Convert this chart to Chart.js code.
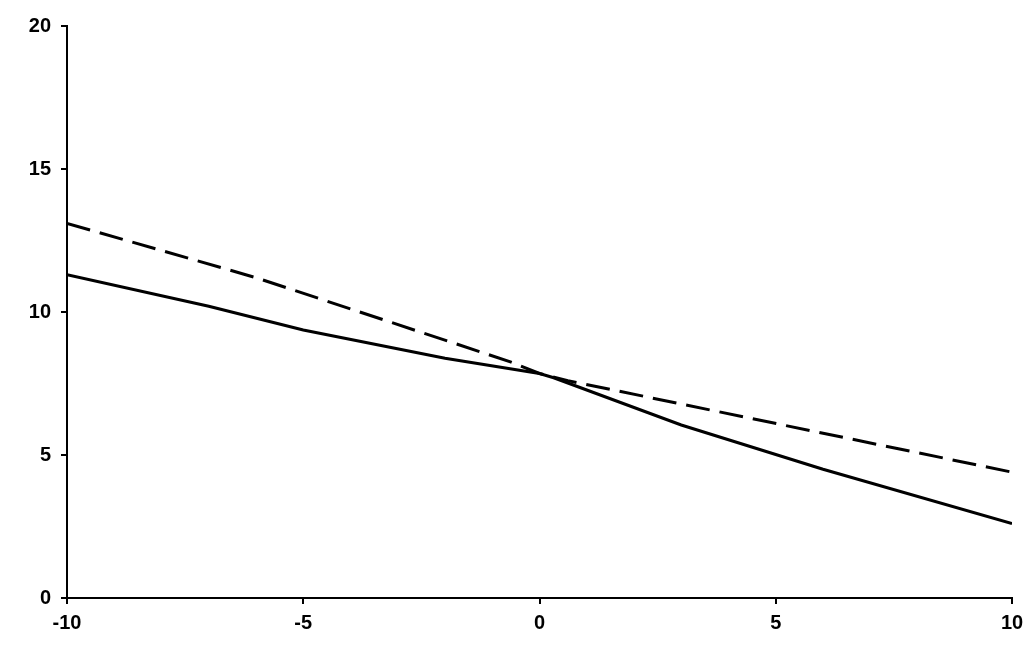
<!DOCTYPE html>
<html>
<head>
<meta charset="utf-8">
<script src="https://cdn.jsdelivr.net/npm/chart.js@4"></script>
<style>
  html, body { margin: 0; padding: 0; background: #fff; }
  #wrap { width: 1033px; height: 656px; }
</style>
</head>
<body>
<div id="wrap"><canvas id="lineChart" width="1033" height="656"></canvas></div>
<script>
// values
var solidX = [-10, -7, -5, -2, 0, 0.3, 3, 6, 10];
var solidY = [11.3, 10.2, 9.37, 8.38, 7.85, 7.7, 6.05, 4.5, 2.6];
var dashX = [-10, -6, -0.6, 0, 0.6, 10];
var dashY = [13.1, 11.2, 8.25, 7.85, 7.6, 4.4];
var xTicks = [-10, -5, 0, 5, 10];
var yTicks = [0, 5, 10, 15, 20];

function pts(xs, ys) {
  return xs.map(function (x, i) { return { x: x, y: ys[i] }; });
}

var ctx = document.getElementById("lineChart");
var myChart = new Chart(ctx, {
  type: "line",
  data: {
    datasets: [
      {
        label: "solid",
        data: pts(solidX, solidY),
        borderColor: "#000",
        borderWidth: 3,
        pointRadius: 0,
        tension: 0,
        fill: false,
      },
      {
        label: "dashed",
        data: pts(dashX, dashY),
        borderColor: "#000",
        borderWidth: 3,
        borderDash: [24, 10],
        pointRadius: 0,
        tension: 0,
        fill: false,
      },
    ],
  },
  options: {
    responsive: false,
    animation: false,
    layout: { padding: { top: 26, right: 21, left: 0, bottom: 0 } },
    plugins: { legend: { display: false }, tooltip: { enabled: false } },
    scales: {
      x: {
        type: "linear",
        min: -10,
        max: 10,
        afterBuildTicks: function (s) { s.ticks = xTicks.map(function (v) { return { value: v }; }); },
        afterFit: function (s) { s.height = 656 - 598; },
        grid: { drawOnChartArea: false, drawTicks: true, tickLength: 6, color: "#000", lineWidth: 2 },
        border: { color: "#000", width: 2 },
        ticks: { color: "#000", font: { family: "Liberation Sans, Arial", size: 20, weight: "bold" }, padding: 7, maxRotation: 0 },
      },
      y: {
        type: "linear",
        min: 0,
        max: 20,
        afterBuildTicks: function (s) { s.ticks = yTicks.map(function (v) { return { value: v }; }); },
        afterFit: function (s) { s.width = 67; },
        grid: { drawOnChartArea: false, drawTicks: true, tickLength: 6, color: "#000", lineWidth: 2 },
        border: { color: "#000", width: 2 },
        ticks: { color: "#000", font: { family: "Liberation Sans, Arial", size: 20, weight: "bold" }, padding: 10 },
      },
    },
  },
});
</script>
</body>
</html>
